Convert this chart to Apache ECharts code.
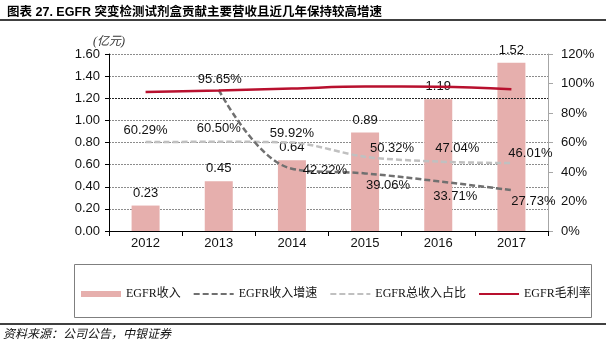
<!DOCTYPE html>
<html><head><meta charset="utf-8">
<script src="https://cdn.jsdelivr.net/npm/echarts@6/dist/echarts.min.js"></script>
<style>html,body{margin:0;padding:0;background:#fff}#c{width:606px;height:343px}</style>
</head><body><div id="c"></div>
<script>
const categories = ['2012','2013','2014','2015','2016','2017'];
const revenue = [0.23, 0.45, 0.64, 0.89, 1.19, 1.52];
const growth = [null, 95.65, 42.22, 39.06, 33.71, 27.73];
const share = [60.29, 60.50, 59.92, 50.32, 47.04, 46.01];
const margin = [94.3, 95.2, 96.6, 97.9, 97.8, 96.1];
const seriesNames = ['EGFR收入','EGFR收入增速','EGFR总收入占比','EGFR毛利率'];
const titleText = '图表 27. EGFR 突变检测试剂盒贡献主要营收且近几年保持较高增速';
const sourceText = '资料来源：公司公告，中银证券';
const unitText = '(亿元)';

const shareOffsets = [[0,0],[0,-1.5],[0,2.5],[27,3.5],[19,-1.5],[19,1.5]];
const growthOffsets = [null,[1,1.5],[33,13.5],[23,24],[17,27],[22,23]];

const latin = "Arial, 'Liberation Sans', 'Noto Sans CJK SC', sans-serif";
const serif = "'Liberation Serif', 'DejaVu Serif', 'Noto Sans CJK SC', serif";
const labelStyle = {fontSize: 13, color: '#111', fontFamily: latin};
const hidden = {opacity: 0};

const chart = echarts.init(document.getElementById('c'), null, {renderer: 'canvas'});
chart.setOption({
  animation: false,
  textStyle: {fontFamily: latin},
  title: {text: titleText, left: 2, top: 1, textStyle: {fontSize: 12.5, fontWeight: 'bold', color: '#000', fontFamily: latin}},
  grid: {left: 109, right: 58, top: 54, bottom: 112},
  legend: {
    left: 76, top: 283, itemWidth: 40, itemHeight: 6, itemGap: 12,
    textStyle: {fontSize: 12, color: '#111', fontFamily: serif},
    data: [
      {name: seriesNames[0], icon: 'rect'},
      {name: seriesNames[1], itemStyle: hidden},
      {name: seriesNames[2], itemStyle: hidden},
      {name: seriesNames[3], itemStyle: hidden}
    ]
  },
  xAxis: {
    type: 'category', data: categories, boundaryGap: true,
    axisLine: {lineStyle: {color: '#000', width: 1}},
    axisTick: {show: true, alignWithLabel: false, length: 5, lineStyle: {color: '#000'}},
    axisLabel: {fontSize: 13, color: '#111', margin: 6}
  },
  yAxis: [{
    type: 'value', min: 0, max: 1.6, interval: 0.2,
    name: unitText, nameLocation: 'end', nameGap: 6,
    nameTextStyle: {fontSize: 12, color: '#333', fontFamily: serif, fontStyle: 'italic', align: 'center'},
    axisLine: {show: true, lineStyle: {color: '#000'}},
    axisTick: {show: true, length: 4, lineStyle: {color: '#000'}},
    axisLabel: {fontSize: 13, color: '#111', margin: 9, formatter: v => v.toFixed(2)},
    splitLine: {show: true, lineStyle: {color: '#8c8c8c', type: [2,1], width: 1}}
  }, {
    type: 'value', min: 0, max: 120, interval: 20, position: 'right',
    axisLine: {show: true, lineStyle: {color: '#a6a6a6'}},
    axisTick: {show: true, length: 5, lineStyle: {color: '#a6a6a6'}},
    axisLabel: {fontSize: 13, color: '#111', margin: 13, formatter: '{value}%'},
    splitLine: {show: false}
  }],
  series: [{
    name: seriesNames[0], type: 'bar', yAxisIndex: 0, data: revenue, barWidth: 28,
    itemStyle: {color: '#E6AFAD'},
    label: Object.assign({show: true, position: 'top', distance: 6, formatter: p => p.value.toFixed(2)}, labelStyle),
    markLine: {silent: true, symbol: 'none', label: {show: false},
      lineStyle: {color: '#222', type: [2,1], width: 1}, data: [{yAxis: 1.2}]},
    z: 1
  }, {
    name: seriesNames[1], type: 'line', yAxisIndex: 1, smooth: 0.4,
    symbol: 'circle', symbolSize: 0.01, showSymbol: true,
    data: growth.map((v, i) => v == null ? '-' : {value: v, label: {offset: growthOffsets[i]}}),
    lineStyle: {color: '#707070', width: 2.5, type: [6,3]},
    itemStyle: {color: '#707070'},
    label: Object.assign({show: true, position: 'top', distance: 5, formatter: p => p.value.toFixed(2) + '%'}, labelStyle),
    z: 3
  }, {
    name: seriesNames[2], type: 'line', yAxisIndex: 1, smooth: 0.3,
    symbol: 'circle', symbolSize: 0.01, showSymbol: true,
    data: share.map((v, i) => ({value: v, label: {offset: shareOffsets[i]}})),
    lineStyle: {color: '#C0C0C0', width: 2.5, type: [6,3]},
    itemStyle: {color: '#C0C0C0'},
    label: Object.assign({show: true, position: 'top', distance: 5, formatter: p => p.value.toFixed(2) + '%'}, labelStyle),
    z: 2
  }, {
    name: seriesNames[3], type: 'line', yAxisIndex: 1, smooth: 0.4, symbol: 'none',
    data: margin,
    lineStyle: {color: '#B8102E', width: 2.5},
    itemStyle: {color: '#B8102E'},
    z: 4
  }],
  graphic: [
    {type: 'line', shape: {x1: 0, y1: 20, x2: 606, y2: 20}, style: {stroke: '#000', lineWidth: 1.5}},
    {type: 'rect', shape: {x: 74.5, y: 264.5, width: 517, height: 53}, style: {fill: null, stroke: '#7f7f7f', lineWidth: 1}},
    {type: 'line', shape: {x1: 0, y1: 324, x2: 606, y2: 324}, style: {stroke: '#000', lineWidth: 1.5}},
    {type: 'text', left: 3, top: 327, style: {text: sourceText, fontSize: 12, fontStyle: 'italic', fill: '#111', fontFamily: "'Noto Sans CJK SC', sans-serif"}}
  ]
});
</script>
</body></html>
